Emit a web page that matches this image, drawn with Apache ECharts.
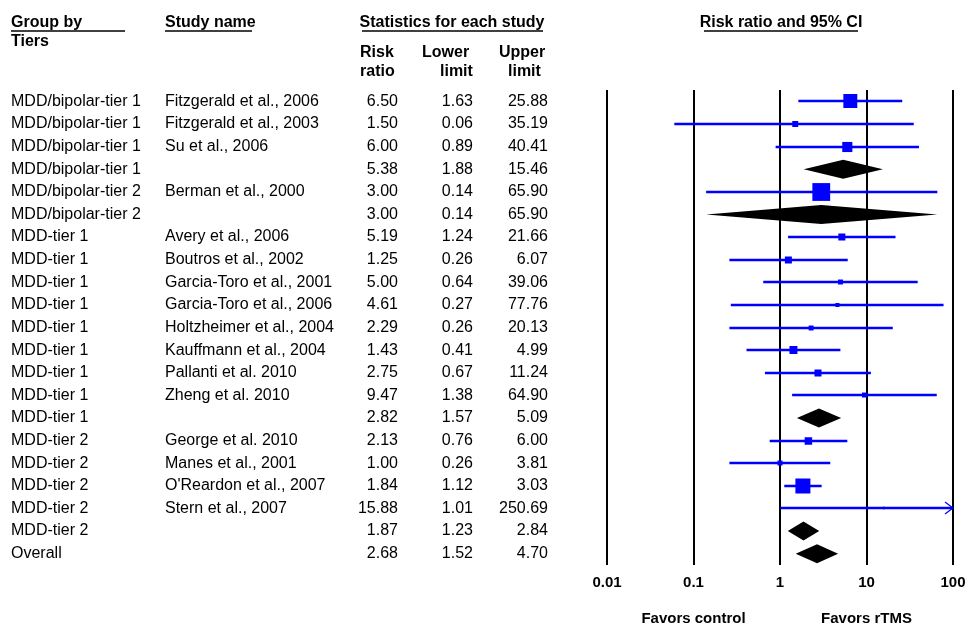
<!DOCTYPE html>
<html>
<head>
<meta charset="utf-8">
<script src="https://cdn.jsdelivr.net/npm/echarts@6/dist/echarts.min.js"></script>
<style>
  html, body { margin: 0; padding: 0; background: #fff; }
  #chart_forest { width: 968px; height: 624px; }
</style>
</head>
<body>
<div id="chart_forest"></div>
<script>
// rows of the forest plot, top to bottom
const groups = [
  "MDD/bipolar-tier 1", "MDD/bipolar-tier 1", "MDD/bipolar-tier 1", "MDD/bipolar-tier 1",
  "MDD/bipolar-tier 2", "MDD/bipolar-tier 2",
  "MDD-tier 1", "MDD-tier 1", "MDD-tier 1", "MDD-tier 1", "MDD-tier 1", "MDD-tier 1",
  "MDD-tier 1", "MDD-tier 1", "MDD-tier 1",
  "MDD-tier 2", "MDD-tier 2", "MDD-tier 2", "MDD-tier 2", "MDD-tier 2",
  "Overall"
];
const studies = [
  "Fitzgerald et al., 2006", "Fitzgerald et al., 2003", "Su et al., 2006", "",
  "Berman et al., 2000", "",
  "Avery et al., 2006", "Boutros et al., 2002", "Garcia-Toro et al., 2001", "Garcia-Toro et al., 2006",
  "Holtzheimer et al., 2004", "Kauffmann et al., 2004", "Pallanti et al. 2010", "Zheng et al. 2010", "",
  "George et al. 2010", "Manes et al., 2001", "O'Reardon et al., 2007", "Stern et al., 2007", "",
  ""
];
const riskRatio = [6.50, 1.50, 6.00, 5.38, 3.00, 3.00, 5.19, 1.25, 5.00, 4.61, 2.29, 1.43, 2.75, 9.47, 2.82, 2.13, 1.00, 1.84, 15.88, 1.87, 2.68];
const lowerLimit = [1.63, 0.06, 0.89, 1.88, 0.14, 0.14, 1.24, 0.26, 0.64, 0.27, 0.26, 0.41, 0.67, 1.38, 1.57, 0.76, 0.26, 1.12, 1.01, 1.23, 1.52];
const upperLimit = [25.88, 35.19, 40.41, 15.46, 65.90, 65.90, 21.66, 6.07, 39.06, 77.76, 20.13, 4.99, 11.24, 64.90, 5.09, 6.00, 3.81, 3.03, 250.69, 2.84, 4.70];
// relative weight of each study (null = pooled/summary row, drawn as diamond)
const weights = [19, 3.5, 10, null, 31, null, 4.8, 4.8, 2.4, 1.6, 2.4, 6.2, 4.8, 2.4, null, 5.5, 2.4, 22, 0.6, null, null];

const xMin = 0.01;
const xMax = 100;
const favorLabels = ["Favors control", "Favors rTMS"];

const FONT = "'Liberation Sans', Arial, sans-serif";
const BLUE = "#0000ff";

let myChart = echarts.init(document.getElementById("chart_forest"));

const rowIdx = groups.map((g, i) => i);
const studyData = [];
const summaryData = [];
rowIdx.forEach((i) => {
  const item = [i, riskRatio[i], lowerLimit[i], upperLimit[i], weights[i]];
  if (weights[i] == null) summaryData.push(item);
  else studyData.push(item);
});

// a text column, drawn as the labels of a hidden y axis
const textColumn = (labels, offset, align) => ({
  type: "category",
  data: labels,
  inverse: true,
  position: "left",
  offset: offset,
  axisLine: { show: false },
  axisTick: { show: false },
  splitLine: { show: false },
  axisLabel: {
    interval: 0,
    margin: 0,
    align: align,
    color: "#000",
    fontSize: 16,
    fontFamily: FONT,
    padding: [4, 0, 0, 0],
  },
});

const fmt = (arr) => arr.map((v) => v.toFixed(2));

const headText = (text, x, y, align, bold) => ({
  type: "text",
  x: x,
  y: y,
  style: {
    text: text,
    fill: "#000",
    font: (bold ? "bold " : "") + "16px " + FONT,
    textAlign: align,
    textVerticalAlign: "middle",
  },
});
const underline = (x1, x2) => ({
  type: "line",
  shape: { x1: x1, y1: 31, x2: x2, y2: 31 },
  style: { stroke: "#000", lineWidth: 1.5 },
});

const option = {
  animation: false,
  grid: { left: 607, right: 15, top: 90, bottom: 59, outerBoundsMode: "none" },
  xAxis: [
    {
      type: "log",
      logBase: 10,
      min: xMin,
      max: xMax,
      interval: 1,
      axisLine: { show: false },
      axisTick: { show: false },
      splitLine: { show: true, lineStyle: { color: "#000", width: 2 } },
      axisLabel: {
        margin: 10,
        color: "#000",
        fontSize: 15,
        fontWeight: "bold",
        fontFamily: FONT,
      },
    },
    {
      type: "log",
      logBase: 10,
      min: xMin,
      max: xMax,
      interval: 1,
      position: "bottom",
      offset: 40,
      axisLine: { show: false },
      axisTick: { show: false },
      splitLine: { show: false },
      axisLabel: {
        margin: 6,
        color: "#000",
        fontSize: 15,
        fontWeight: "bold",
        fontFamily: FONT,
        formatter: (v) => {
          const e = Math.round(Math.log10(v));
          if (e === -1) return favorLabels[0];
          if (e === 1) return favorLabels[1];
          return "";
        },
      },
    },
  ],
  yAxis: [
    {
      type: "category",
      data: rowIdx,
      inverse: true,
      show: false,
    },
    textColumn(groups, 596, "left"),
    textColumn(studies, 442, "left"),
    textColumn(fmt(riskRatio), 209, "right"),
    textColumn(fmt(lowerLimit), 134, "right"),
    textColumn(fmt(upperLimit), 59, "right"),
  ],
  graphic: [
    headText("Group by", 11, 23, "left", true),
    underline(11, 125),
    headText("Tiers", 11, 42, "left", true),
    headText("Study name", 165, 23, "left", true),
    underline(165, 252),
    headText("Statistics for each study", 452, 23, "center", true),
    underline(362, 543),
    headText("Risk", 360, 53, "left", true),
    headText("ratio", 360, 72, "left", true),
    headText("Lower", 422, 53, "left", true),
    headText("limit", 440, 72, "left", true),
    headText("Upper", 499, 53, "left", true),
    headText("limit", 508, 72, "left", true),
    headText("Risk ratio and 95% CI", 781, 23, "center", true),
    underline(704, 858),
  ],
  series: [
    {
      name: "studies",
      type: "custom",
      xAxisIndex: 0,
      yAxisIndex: 0,
      clip: false,
      encode: { x: [1, 2, 3], y: 0 },
      data: studyData,
      renderItem: (params, api) => {
        const row = api.value(0);
        const rr = api.value(1);
        const lo = api.value(2);
        const hi = api.value(3);
        const w = api.value(4);
        const pLo = api.coord([Math.max(lo, xMin), row]);
        const pHi = api.coord([Math.min(hi, xMax), row]);
        const pRR = api.coord([rr, row]);
        const y = Math.round(pRR[1]);
        const side = 3.2 * Math.sqrt(w);
        const children = [
          {
            type: "line",
            shape: { x1: pLo[0], y1: y, x2: pHi[0], y2: y },
            style: { stroke: BLUE, lineWidth: 2.4 },
          },
          {
            type: "rect",
            shape: { x: pRR[0] - side / 2, y: y - side / 2, width: side, height: side },
            style: { fill: BLUE },
          },
        ];
        if (hi > xMax) {
          children.push({
            type: "polyline",
            shape: { points: [[pHi[0] - 8, y - 6], [pHi[0], y], [pHi[0] - 8, y + 6]] },
            style: { stroke: BLUE, lineWidth: 1.2, fill: null },
          });
        }
        return { type: "group", children: children };
      },
    },
    {
      name: "summary",
      type: "custom",
      xAxisIndex: 0,
      yAxisIndex: 0,
      clip: false,
      encode: { x: [1, 2, 3], y: 0 },
      data: summaryData,
      renderItem: (params, api) => {
        const row = api.value(0);
        const pLo = api.coord([api.value(2), row]);
        const pHi = api.coord([api.value(3), row]);
        const pRR = api.coord([api.value(1), row]);
        const h = 9.5;
        return {
          type: "polygon",
          shape: {
            points: [
              [pLo[0], pLo[1]],
              [pRR[0], pRR[1] - h],
              [pHi[0], pHi[1]],
              [pRR[0], pRR[1] + h],
            ],
          },
          style: { fill: "#000" },
        };
      },
    },
  ],
};

myChart.setOption(option);

window.addEventListener("resize", () => {
  myChart.resize();
});
</script>
</body>
</html>
